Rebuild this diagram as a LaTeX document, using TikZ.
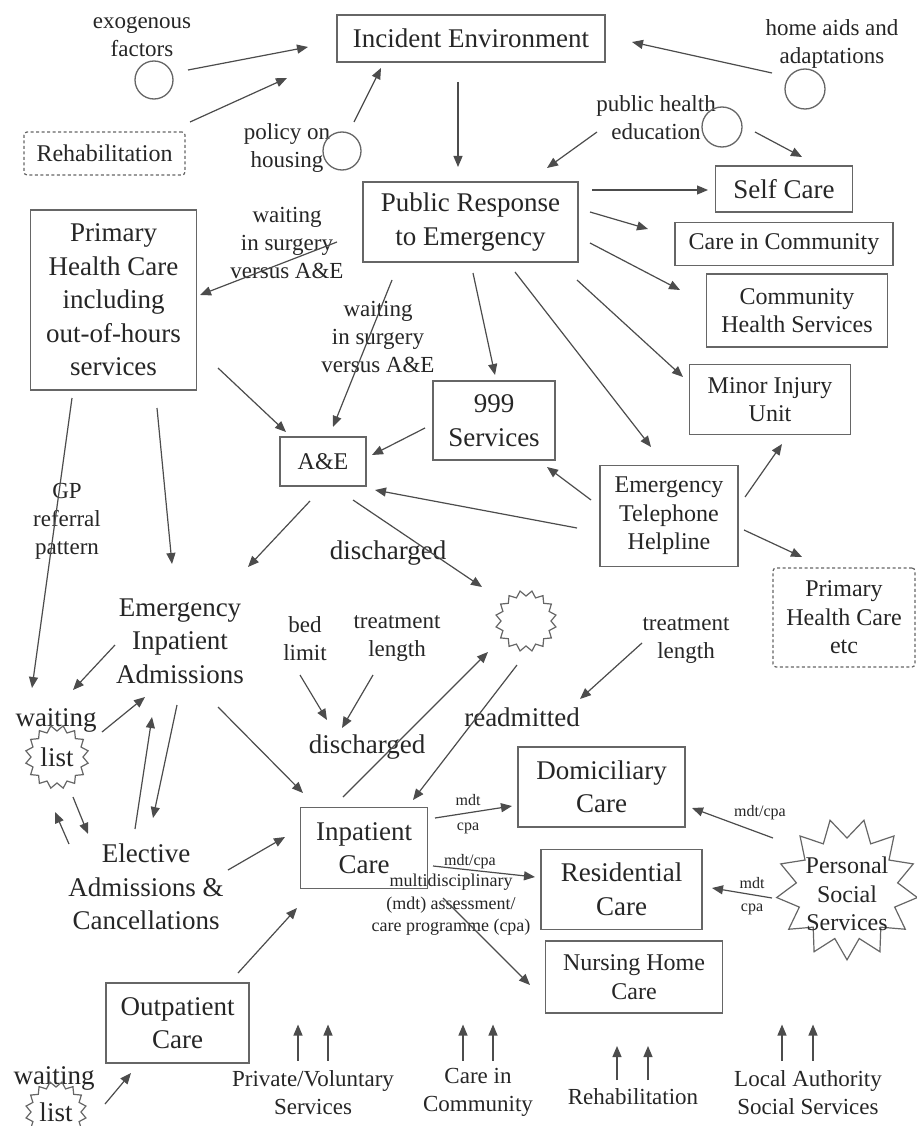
\documentclass[tikz,border=0pt]{standalone}
\usepackage{fontspec}
\setmainfont{Liberation Serif}
\usetikzlibrary{arrows.meta,shapes.geometric}
\begin{document}
\begin{tikzpicture}[x=1pt,y=-1pt,
  every node/.style={text=black!85, inner sep=0pt, align=center},
  big/.style={font=\fontsize{27}{33.5}\selectfont},
  med/.style={font=\fontsize{24}{28.5}\selectfont},
  lab/.style={font=\fontsize{23}{28}\selectfont},
  small/.style={font=\fontsize{18}{22.5}\selectfont},
  tiny/.style={font=\fontsize{16}{24}\selectfont},
  box/.style={draw=black!60, line width=1.8pt, rectangle},
  dbox/.style={draw=black!60, line width=1.2pt, dash pattern=on 3pt off 2.5pt, rounded corners=3pt},
  ring/.style={draw=black!60, line width=1.3pt, circle, minimum size=38pt},
  burst/.style={draw=black!60, line width=1.2pt, star, star points=16, star point ratio=0.82},
  arr/.style={draw=black!70, line width=1.2pt, -{Triangle[length=11pt,width=9pt]}},
]
\fill[white] (0,0) rectangle (917,1126);
\useasboundingbox (0,0) rectangle (917,1126);

% ---------- nodes ----------
\node[box,big,minimum width=268pt,minimum height=47pt] (ie) at (471,38.5) {Incident Environment};
\node[lab] (exoT) at (142,37) {exogenous\\factors};
\node[ring] (exoC) at (154,80) {};
\node[dbox,med,minimum width=161pt,minimum height=43pt] (rehab) at (104.5,153.5) {Rehabilitation};
\node[lab] (polT) at (287,148) {policy on\\housing};
\node[ring] (polC) at (342,151) {};
\node[lab] (homeT) at (832,44) {home aids and\\adaptations};
\node[ring,minimum size=40pt] (homeC) at (805,89) {};
\node[lab] (pheT) at (656,118) {public health\\education};
\node[ring,minimum size=40pt] (pheC) at (722,127) {};
\node[box,big,minimum width=215pt,minimum height=80pt] (pr) at (470.5,222) {Public Response\\to Emergency};
\node[box,big,minimum width=137pt,minimum height=46pt] (self) at (784,189) {Self Care};
\node[box,med,minimum width=218pt,minimum height=43pt] (cic) at (784,244) {Care in Community};
\node[box,med,minimum width=181pt,minimum height=73pt] (chs) at (797,310.5) {Community\\Health Services};
\node[box,med,minimum width=161pt,minimum height=70pt] (miu) at (770,399.5) {Minor Injury\\Unit};
\node[box,big,minimum width=122pt,minimum height=79pt] (s999) at (494,420.5) {999\\Services};
\node[box,big,minimum width=166pt,minimum height=180pt] (phc) at (113.5,300) {Primary\\Health Care\\including\\out-of-hours\\services};
\node[lab] (w1T) at (287,243) {waiting\\in surgery\\versus A\&E};
\node[lab] (w2T) at (378,337) {waiting\\in surgery\\versus A\&E};
\node[box,med,minimum width=86pt,minimum height=49pt] (ae) at (323,461.5) {A\&E};
\node[box,med,minimum width=138pt,minimum height=101pt] (eth) at (669,516) {Emergency\\Telephone\\Helpline};
\node[dbox,med,minimum width=142pt,minimum height=99pt] (phcetc) at (844,617.5) {Primary\\Health Care\\etc};
\node[lab] (gpT) at (67,521) {GP\\referral\\pattern};
\node[big] (eia) at (180,641) {Emergency\\Inpatient\\Admissions};
\node[big] (dis1) at (388,553) {discharged};
\node[burst,minimum size=50pt] (sb) at (526,621) {};
\node[lab] (bedT) at (305,639) {bed\\limit};
\node[lab] (tl1) at (397,639) {treatment\\length};
\node[big] (dis2) at (367,747) {discharged};
\node[lab] (tl2) at (686,640) {treatment\\length};
\node[big] (readm) at (522,717) {readmitted};
\node[big] (wl1T) at (56,720) {waiting};
\node[burst,big,minimum size=52pt] (wl1) at (57,757) {list};
\node[big] (elec) at (146,887) {Elective\\Admissions \&\\Cancellations};
\node[box,big,minimum width=127pt,minimum height=81pt] (inp) at (364,848) {Inpatient\\Care};
\node[box,big,minimum width=167pt,minimum height=80pt] (dom) at (601.5,787) {Domiciliary\\Care};
\node[box,big,minimum width=161pt,minimum height=80pt] (res) at (621.5,889.5) {Residential\\Care};
\node[box,med,minimum width=177pt,minimum height=72pt] (nhc) at (634,977) {Nursing Home\\Care};
\node[box,big,minimum width=143pt,minimum height=80pt] (outp) at (177.5,1023) {Outpatient\\Care};
\node[big] (wl2T) at (54,1078) {waiting};
\node[burst,big,minimum size=50pt] (wl2) at (56,1112) {list};
\node[small] (mdtT) at (451,905) {multidisciplinary\\(mdt) assessment/\\care programme (cpa)};
\node[draw=black!60, line width=1.2pt, star, star points=13, star point ratio=0.72, minimum size=102pt] (pss) at (847,889) {};
\node[med] (pssT) at (847,894) {Personal\\Social\\Services};
\node[tiny,font=\fontsize{16}{25}\selectfont] (m1) at (468,814) {mdt\\cpa};
\node[tiny] (m2) at (470,862) {mdt/cpa};
\node[tiny] (m3) at (760,813) {mdt/cpa};
\node[tiny,font=\fontsize{16}{23}\selectfont] (m4) at (752,896) {mdt\\cpa};
\node[lab] (pv) at (313,1092.5) {Private/Voluntary\\Services};
\node[lab] (cicb) at (478,1092.5) {Care in\\Community};
\node[lab] (rehb) at (633,1097) {Rehabilitation};
\node[lab] (la) at (808,1092.5) {Local Authority\\Social Services};

% ---------- connectors ----------
\draw[arr] ([shift={(34,-10)}]exoC.center) -- ([shift={(-163,8.5)}]ie.center);
\draw[arr] ([shift={(85.5,-31.5)}]rehab.center) -- ([shift={(-184,39.5)}]ie.center);
\draw[arr] ([shift={(12,-29)}]polC.center) -- ([shift={(-90,29.5)}]ie.center);
\draw[arr] ([shift={(-33,-16)}]homeC.center) -- ([shift={(161,3.5)}]ie.center);
\draw[arr] ([shift={(-13,43.5)}]ie.center) -- ([shift={(-12.5,-55)}]pr.center);
\draw[arr] ([shift={(-59,14)}]pheT.center) -- ([shift={(76.5,-54)}]pr.center);
\draw[arr] ([shift={(33,5)}]pheC.center) -- ([shift={(18,-32)}]self.center);
\draw[arr] ([shift={(121.5,-32)}]pr.center) -- ([shift={(-76,1)}]self.center);
\draw[arr] ([shift={(119.5,-10)}]pr.center) -- ([shift={(-136,-15)}]cic.center);
\draw[arr] ([shift={(119.5,21)}]pr.center) -- ([shift={(-117,-20.5)}]chs.center);
\draw[arr] ([shift={(106.5,58)}]pr.center) -- ([shift={(-87,-22.5)}]miu.center);
\draw[arr] ([shift={(44.5,50)}]pr.center) -- ([shift={(-18,-69)}]eth.center);
\draw[arr] ([shift={(2.5,51)}]pr.center) -- ([shift={(1,-45.5)}]s999.center);
\draw[arr] ([shift={(-78.5,58)}]pr.center) -- ([shift={(10,-34.5)}]ae.center);
\draw[arr] ([shift={(-133.5,20)}]pr.center) -- ([shift={(86.5,-5)}]phc.center);
\draw[arr] ([shift={(104.5,68)}]phc.center) -- ([shift={(-37,-29.5)}]ae.center);
\draw[arr] ([shift={(-69,7.5)}]s999.center) -- ([shift={(49,-6.5)}]ae.center);
\draw[arr] ([shift={(-78,-16)}]eth.center) -- ([shift={(53,46.5)}]s999.center);
\draw[arr] ([shift={(-92,12)}]eth.center) -- ([shift={(52,28.5)}]ae.center);
\draw[arr] ([shift={(76,-19)}]eth.center) -- ([shift={(12,44.5)}]miu.center);
\draw[arr] ([shift={(75,14)}]eth.center) -- ([shift={(-42,-60.5)}]phcetc.center);
\draw[arr] ([shift={(-41.5,98)}]phc.center) -- ([shift={(-25,-69)}]wl1.center);
\draw[arr] ([shift={(43.5,108)}]phc.center) -- ([shift={(-8,-77)}]eia.center);
\draw[arr] ([shift={(-13,39.5)}]ae.center) -- ([shift={(68,-74)}]eia.center);
\draw[arr] ([shift={(30,38.5)}]ae.center) -- ([shift={(-44,-34)}]sb.center);
\draw[arr] ([shift={(-65,4)}]eia.center) -- ([shift={(16,-67)}]wl1.center);
\draw[arr] ([shift={(45,-25)}]wl1.center) -- ([shift={(-35,56)}]eia.center);
\draw[arr] ([shift={(-11,-58)}]elec.center) -- ([shift={(-28,76)}]eia.center);
\draw[arr] ([shift={(-3,64)}]eia.center) -- ([shift={(7,-69)}]elec.center);
\draw[arr] ([shift={(16,40)}]wl1.center) -- ([shift={(-58,-53)}]elec.center);
\draw[arr] ([shift={(-77,-43)}]elec.center) -- ([shift={(-2,55)}]wl1.center);
\draw[arr] ([shift={(38,66)}]eia.center) -- ([shift={(-61,-55)}]inp.center);
\draw[arr] ([shift={(-5,36)}]bedT.center) -- ([shift={(-40,-27)}]dis2.center);
\draw[arr] ([shift={(-24,36)}]tl1.center) -- ([shift={(-25,-19)}]dis2.center);
\draw[arr] ([shift={(-21,-51)}]inp.center) -- ([shift={(-38,31)}]sb.center);
\draw[arr] ([shift={(-9,44)}]sb.center) -- ([shift={(49,-48)}]inp.center);
\draw[arr] ([shift={(-44,3)}]tl2.center) -- ([shift={(58,-18)}]readm.center);
\draw[arr] ([shift={(71,-30)}]inp.center) -- ([shift={(-89.5,19)}]dom.center);
\draw[arr] ([shift={(69,18)}]inp.center) -- ([shift={(-86.5,-12.5)}]res.center);
\draw[arr] ([shift={(79,50)}]inp.center) -- ([shift={(-104,8)}]nhc.center);
\draw[arr] ([shift={(82,-17)}]elec.center) -- ([shift={(-79,-11)}]inp.center);
\draw[arr] ([shift={(60.5,-50)}]outp.center) -- ([shift={(-67,60)}]inp.center);
\draw[arr] ([shift={(49,-8)}]wl2.center) -- ([shift={(-46.5,50)}]outp.center);
\draw[arr] ([shift={(-74,-51)}]pss.center) -- ([shift={(90.5,21)}]dom.center);
\draw[arr] ([shift={(-75,9)}]pss.center) -- ([shift={(90.5,-1.5)}]res.center);

% bottom arrows
\draw[arr] ([shift={(-15,-32)}]pv.center) -- ([shift={(-15,-68)}]pv.center);
\draw[arr] ([shift={(15,-32)}]pv.center) -- ([shift={(15,-68)}]pv.center);
\draw[arr] ([shift={(-15,-32)}]cicb.center) -- ([shift={(-15,-68)}]cicb.center);
\draw[arr] ([shift={(15,-32)}]cicb.center) -- ([shift={(15,-68)}]cicb.center);
\draw[arr] ([shift={(-16,-17)}]rehb.center) -- ([shift={(-16,-51)}]rehb.center);
\draw[arr] ([shift={(15,-17)}]rehb.center) -- ([shift={(15,-51)}]rehb.center);
\draw[arr] ([shift={(-26,-32)}]la.center) -- ([shift={(-26,-68)}]la.center);
\draw[arr] ([shift={(5,-32)}]la.center) -- ([shift={(5,-68)}]la.center);
\end{tikzpicture}
\end{document}
